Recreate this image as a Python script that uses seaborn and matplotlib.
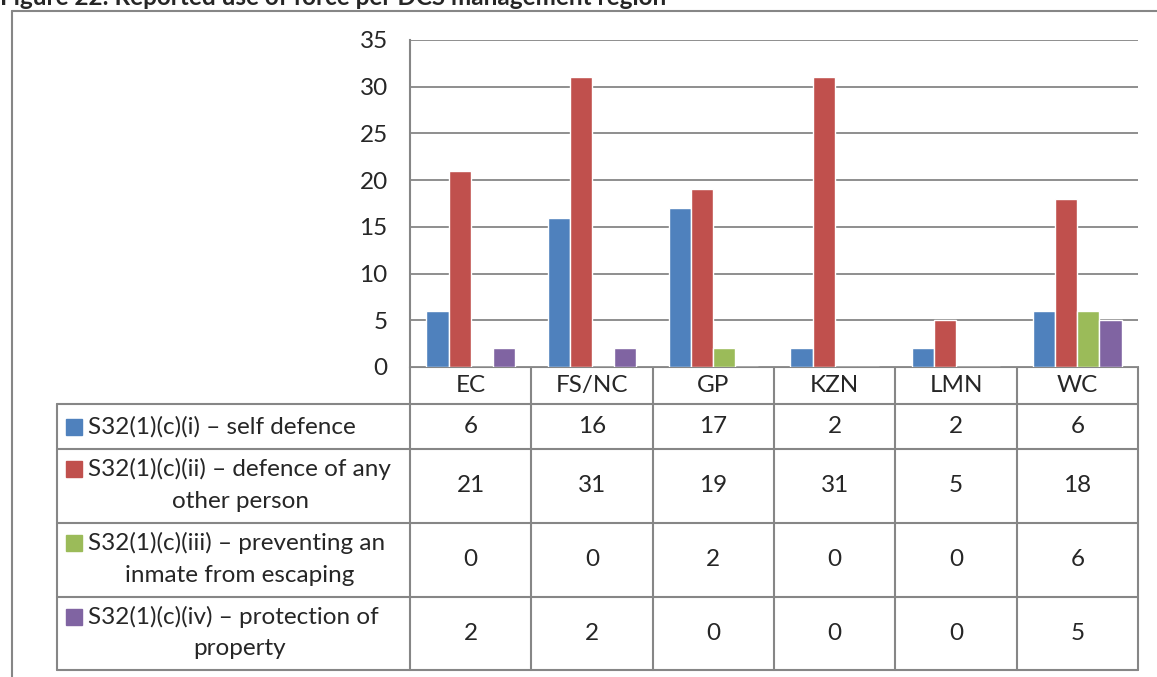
import numpy as np
import pandas as pd
import seaborn as sns
import matplotlib.pyplot as plt
from matplotlib.patches import Rectangle

# Data
regions = ['EC', 'FS/NC', 'GP', 'KZN', 'LMN', 'WC']
series = [
    'S32(1)(c)(i) – self defence',
    'S32(1)(c)(ii) – defence of any\nother person',
    'S32(1)(c)(iii) – preventing an\ninmate from escaping',
    'S32(1)(c)(iv) – protection of\nproperty',
]
self_defence = [6, 16, 17, 2, 2, 6]
defence_other = [21, 31, 19, 31, 5, 18]
prevent_escape = [0, 0, 2, 0, 0, 6]
protect_property = [2, 2, 0, 0, 0, 5]
colors = ['#4F81BD', '#C0504D', '#9BBB59', '#8064A2']
values = [self_defence, defence_other, prevent_escape, protect_property]

df = pd.DataFrame({
    'region': np.tile(regions, len(series)),
    'series': np.repeat(series, len(regions)),
    'value': np.concatenate(values),
})

sns.set_style('white')
plt.rcParams['font.family'] = ['Lato', 'DejaVu Sans']
fs = 17.5

W, H = 1157, 677
fig = plt.figure(figsize=(W / 100, H / 100), dpi=100)
grey = '#868686'

# plot area in pixels
x0, x1, y_top, y_bot = 410, 1138, 40, 367
ax = fig.add_axes([x0 / W, 1 - y_bot / H, (x1 - x0) / W, (y_bot - y_top) / H])
sns.barplot(data=df, x='region', y='value', hue='series', palette=colors,
            width=0.73, saturation=1, ax=ax, legend=False)
ax.set_ylim(0, 35)
ax.set_yticks(range(0, 36, 5))
ax.set_xticks([])
ax.set_xlabel('')
ax.set_ylabel('')
ax.grid(axis='y', color=grey, lw=1.3)
ax.set_axisbelow(True)
for s in ['top', 'right', 'bottom']:
    ax.spines[s].set_visible(False)
ax.spines['left'].set_color(grey)
ax.spines['left'].set_linewidth(1.5)
ax.tick_params(axis='y', length=0, pad=16, labelsize=fs)

# overlay for table and frame, pixel coords
ov = fig.add_axes([0, 0, 1, 1], zorder=-1)
ov.set_xlim(0, W)
ov.set_ylim(H, 0)
ov.axis('off')

# outer chart frame
ov.plot([12, 12], [H + 5, 11], color=grey, lw=1.5)
ov.plot([12, W + 5], [11, 11], color=grey, lw=1.5)

fig.text(0, 1 - 5 / H, 'Figure 22: Reported use of force per DCS management region',
         fontsize=fs, fontweight='bold', va='baseline', ha='left')

# table
col_w = (x1 - x0) / len(regions)
cols = [x0 + i * col_w for i in range(len(regions) + 1)]
rows = [y_bot, 404, 449, 523, 597, 670]
lbl_x = 57
ov.plot([x0, x1], [rows[0], rows[0]], color=grey, lw=1.5)
for r in rows[1:]:
    ov.plot([lbl_x, x1], [r, r], color=grey, lw=1.5)
for c in cols:
    ov.plot([c, c], [rows[0], rows[-1]], color=grey, lw=1.5)
ov.plot([lbl_x, lbl_x], [rows[1], rows[-1]], color=grey, lw=1.5)

for j, reg in enumerate(regions):
    ov.text((cols[j] + cols[j + 1]) / 2, (rows[0] + rows[1]) / 2, reg,
            ha='center', va='center', fontsize=fs)

for i, (name, vals, col) in enumerate(zip(series, values, colors)):
    yc = (rows[i + 1] + rows[i + 2]) / 2
    lines = name.split('\n')
    if len(lines) == 1:
        ov.add_patch(Rectangle((66, yc - 8), 16, 16, color=col))
        ov.text(88, yc, lines[0], ha='left', va='center', fontsize=fs)
    else:
        ov.add_patch(Rectangle((66, yc - 8 - 17), 16, 16, color=col))
        ov.text(88, yc - 17, lines[0], ha='left', va='center', fontsize=fs)
        ov.text(240, yc + 15, lines[1], ha='center', va='center', fontsize=fs)
    for j, v in enumerate(vals):
        ov.text((cols[j] + cols[j + 1]) / 2, yc, str(v),
                ha='center', va='center', fontsize=fs)

fig.savefig('out.png', dpi=100)
